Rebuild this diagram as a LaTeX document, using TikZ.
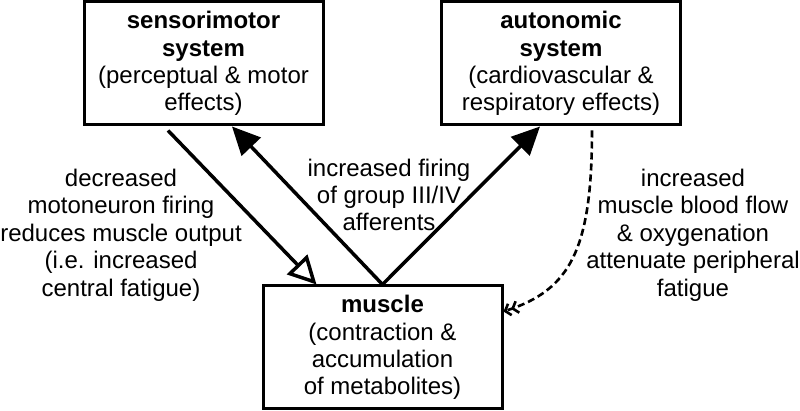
\documentclass[tikz,border=0pt]{standalone}
\usepackage{fontspec}
\setmainfont{Liberation Sans}
\usetikzlibrary{arrows.meta}

\begin{document}
\begin{tikzpicture}[x=0.5pt,y=-0.5pt,line width=1.75pt,
  box node/.style={rectangle,draw,line width=1.5pt,minimum width=119.5pt,minimum height=61.5pt,align=center,font=\fontsize{12}{13.7}\selectfont},
  text node/.style={align=center,font=\fontsize{12}{13.7}\selectfont},
  full arrow/.style={-{Triangle[length=14pt,width=13pt]}},
  open arrow/.style={-{Triangle[open,length=14pt,width=14pt]}},
  dash arrow/.style={line width=1.3pt,dash pattern=on 3.5pt off 2pt,-{Straight Barb[length=2.5pt,width=6pt]Straight Barb[length=2.5pt,width=6pt]}}]

  \useasboundingbox (0,0) rectangle (800,411);

  \node[box node] (sm) at (203.5,63.5) {\textbf{sensorimotor}\\ \textbf{system}\\ (perceptual \& motor\\ effects)};
  \node[box node] (au) at (561,63.5) {\textbf{autonomic}\\ \textbf{system}\\ (cardiovascular \&\\ respiratory effects)};
  \node[box node] (mu) at (382.5,347.5) {\textbf{muscle}\\ (contraction \&\\ accumulation\\ of metabolites)};

  \node[text node] (l1) at (121,235) {decreased\\ motoneuron firing\\ reduces muscle output\\ (i.e. increased\\ central fatigue)};
  \node[text node] (l2) at (389,195) {increased firing\\ of group III/IV\\ afferents};
  \node[text node] (l3) at (693,235) {increased\\ muscle blood flow\\ \& oxygenation\\ attenuate peripheral\\ fatigue};

  \path
    ([xshift=-17.75pt,yshift=-2pt]sm.south) edge[open arrow] ([xshift=-33pt]mu.north)
    (mu.north) edge[full arrow] ([xshift=14.25pt]sm.south)
    (mu.north) edge[full arrow] ([xshift=-10.5pt]au.south);
  \draw[dash arrow] ([xshift=15.5pt,yshift=-2pt]au.south) .. controls (592,250) and (570,290) .. ([yshift=18pt]mu.east);

\end{tikzpicture}
\end{document}
